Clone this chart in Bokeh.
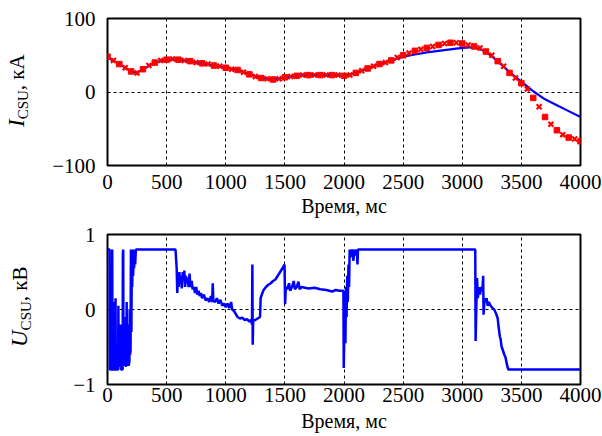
from bokeh.plotting import figure
from bokeh.models import Range1d, FixedTicker, Div
from bokeh.layouts import column, row
from bokeh.embed import file_html
from bokeh.resources import INLINE

# ---- data ----
x_ticks = [0, 500, 1000, 1500, 2000, 2500, 3000, 3500, 4000]
i_ticks = [-100, 0, 100]
u_ticks = [-1, 0, 1]

# computed current (blue line), ms / kA
i_calc_t = [0, 100, 200, 250, 300, 400, 500, 600, 700, 800, 900, 1000, 1100, 1200, 1300,
            1400, 1500, 1600, 1700, 1800, 1900, 2000, 2100, 2200, 2300, 2400, 2500, 2600,
            2700, 2800, 2900, 3000, 3100, 3200, 3300, 3400, 3500, 3600, 3700, 3800, 3900, 4000]
i_calc_v = [47, 38, 28, 26, 31, 40, 44, 44, 42, 39, 36, 33, 30, 24, 19,
            17, 20, 22, 23, 23, 23, 22, 26, 32, 38, 43, 48, 51,
            54, 56, 58, 60, 61, 55, 42, 27, 14, 1, -10, -18, -26, -34]

# measured current (red markers), ms / kA
i_meas_t = [0, 50, 100, 150, 200, 250, 300, 350, 400, 450, 500, 550, 600, 650, 700, 750,
            800, 850, 900, 950, 1000, 1050, 1100, 1150, 1200, 1250, 1300, 1350, 1400, 1450,
            1500, 1550, 1600, 1650, 1700, 1750, 1800, 1850, 1900, 1950, 2000, 2050, 2100,
            2150, 2200, 2250, 2300, 2350, 2400, 2450, 2500, 2550, 2600, 2650, 2700, 2750,
            2800, 2850, 2900, 2950, 3000, 3050, 3100, 3150, 3200, 3250, 3300, 3350, 3400,
            3450, 3500, 3550, 3600, 3650, 3700, 3750, 3800, 3850, 3900, 3950, 4000]
i_meas_v = [48, 43, 38, 33, 28, 26, 31, 36, 40, 43, 44, 45, 44, 43, 42, 40,
            39, 38, 36, 35, 33, 31, 30, 27, 24, 21, 19, 18, 17, 18,
            20, 21, 22, 23, 23, 23, 23, 23, 23, 23, 22, 23, 26,
            29, 32, 35, 38, 40, 43, 47, 50, 53, 56, 58, 60, 62,
            64, 66, 67, 67, 66, 64, 62, 60, 55, 50, 42, 35, 26,
            19, 12, 4, -8, -20, -34, -44, -52, -58, -62, -64, -67]

# coil voltage (blue line), ms / kV
u_t = [0, 18, 20, 38, 40, 42, 55, 57, 59, 66, 68, 70, 90, 92, 94, 110, 112, 114, 128, 130,
       133, 135, 145, 147, 150, 160, 162, 165, 172, 175, 178, 185, 188, 191, 195, 198, 202,
       206, 209, 213, 217, 221, 225, 230, 234, 240, 575, 580, 585, 590, 596, 602, 608, 614,
       620, 628, 636, 644, 650, 656, 664, 670, 678, 686, 694, 702, 712, 720, 730, 740, 750,
       760, 770, 780, 790, 800, 815, 830, 845, 860, 875, 885, 890, 895, 910, 925, 940, 955,
       970, 985, 1000, 1015, 1030, 1045, 1055, 1070, 1085, 1100, 1120, 1140, 1160, 1180,
       1200, 1215, 1222, 1225, 1228, 1232, 1250, 1270, 1290, 1295, 1305, 1320, 1340, 1360,
       1380, 1400, 1420, 1440, 1460, 1480, 1497, 1502, 1508, 1520, 1535, 1545, 1560, 1575,
       1585, 1600, 1615, 1625, 1640, 1700, 1750, 1800, 1850, 1900, 1930, 1960, 1995, 1998,
       2003, 2008, 2012, 2017, 2022, 2027, 2032, 2038, 2043, 2048, 2060, 2068, 2080, 2085,
       2100, 2108, 2114, 2118, 3110, 3113, 3120, 3125, 3132, 3140, 3150, 3160, 3170, 3177,
       3180, 3190, 3200, 3206, 3215, 3225, 3240, 3255, 3270, 3285, 3300, 3305, 3318, 3325,
       3332, 3345, 3355, 3366, 3380, 3390, 4000]
u_v = [0.8, 0.8, -0.8, -0.8, 0.8, -0.8, -0.8, 0.1, -0.8, -0.8, 0.15, -0.8, -0.8, 0.05, -0.75,
       -0.75, -0.2, -0.8, -0.8, 0.75,
       0.8, -0.7, -0.7, -0.1, -0.75, -0.75, 0.1, -0.65, -0.7, -0.2, -0.75, -0.7, 0.0, -0.6,
       -0.55, 0.8, -0.3,
       0.8, 0.3, 0.8, 0.45, 0.8, 0.55, 0.8, 0.6, 0.8, 0.8, 0.68, 0.55, 0.22, 0.45, 0.3, 0.5, 0.35,
       0.45, 0.28, 0.5, 0.4, 0.52, 0.3, 0.45, 0.35, 0.42, 0.3, 0.48, 0.3, 0.38, 0.27, 0.3, 0.22,
       0.3,
       0.2, 0.25, 0.18, 0.22, 0.15, 0.2, 0.12, 0.15, 0.1, 0.18, 0.1, 0.35, 0.12, 0.1, 0.15,
       0.08, 0.13,
       0.05, 0.08, 0.03, 0.08, 0.02, 0.1, 0.0, -0.02, -0.06, -0.1, -0.12, -0.11, -0.14, -0.13,
       -0.16, -0.14, -0.2, 0.6, -0.47, -0.15, -0.14, -0.12, -0.1, 0.15, 0.2, 0.26, 0.3, 0.33,
       0.35, 0.38, 0.4, 0.45, 0.5, 0.55, 0.6, 0.07, 0.3, 0.27, 0.35, 0.25, 0.3, 0.38,
       0.27, 0.3, 0.37, 0.27, 0.3, 0.28, 0.29, 0.27, 0.26, 0.24, 0.26, 0.25, 0.25, -0.78,
       -0.3, 0.15, -0.45, 0.3, -0.1, 0.45, 0.1, 0.6, 0.3, 0.8, 0.7, 0.8, 0.65, 0.8,
       0.72, 0.8, 0.6, 0.8, 0.8, -0.42, 0.1, 0.42, 0.15, 0.3, 0.2, 0.3, 0.25, 0.45,
       -0.07, 0.15, 0.1, 0.15, 0.05, 0.1, 0.05, 0.02, 0.0, -0.05, -0.12, -0.2, -0.36, -0.4,
       -0.49, -0.55, -0.6, -0.64, -0.75, -0.8, -0.8]

x_label = "Время, мс"
i_label = ["I", "CSU", ", кА"]
u_label = ["U", "CSU", ", кВ"]

# ---- style / layout ----
FONT = "Liberation Serif"
LW = 40          # width of the y-label strip
W = 602 - LW
FL = 107 - LW    # frame left inside main figure
FW = 473         # frame width
BLUE = "#0000ff"
RED = "#ff0000"


def make_fig(height, top, frame_h, yr, yticks, overrides, tick_standoff, label_standoff):
    p = figure(width=W, height=height, output_backend="svg", toolbar_location=None,
               x_range=Range1d(0, 4000), y_range=Range1d(*yr),
               min_border_left=FL, min_border_right=W - FL - FW,
               min_border_top=top, min_border_bottom=height - top - frame_h)
    p.outline_line_color = "black"
    p.outline_line_width = 2
    p.background_fill_color = "white"
    p.border_fill_color = "white"
    for ax in (p.xaxis[0], p.yaxis[0]):
        ax.axis_line_color = None
        ax.major_tick_line_color = None
        ax.minor_tick_line_color = None
        ax.major_tick_in = 0
        ax.major_tick_out = 0
        ax.minor_tick_in = 0
        ax.minor_tick_out = 0
        ax.major_label_text_font = FONT
        ax.major_label_text_font_size = "21px"
        ax.major_label_text_color = "black"
    p.xaxis[0].ticker = FixedTicker(ticks=x_ticks)
    p.yaxis[0].ticker = FixedTicker(ticks=yticks)
    p.yaxis[0].major_label_overrides = overrides
    p.yaxis[0].major_label_standoff = 12
    p.xaxis[0].major_label_standoff = tick_standoff
    p.xaxis[0].axis_label = x_label
    p.xaxis[0].axis_label_text_font = FONT
    p.xaxis[0].axis_label_text_font_style = "normal"
    p.xaxis[0].axis_label_text_font_size = "20px"
    p.xaxis[0].axis_label_text_color = "black"
    p.xaxis[0].axis_label_standoff = label_standoff
    p.xgrid[0].ticker = FixedTicker(ticks=x_ticks)
    p.ygrid[0].ticker = FixedTicker(ticks=yticks)
    for g in (p.xgrid[0], p.ygrid[0]):
        g.grid_line_color = "black"
        g.grid_line_dash = "3 3"
        g.grid_line_width = 1
    return p


def label_strip(height, parts, tx, ty):
    # vertical y-axis title: italic symbol, small subscript, unit; reads bottom to top
    html = (
        '<div style="transform: translate(%dpx, %dpx) rotate(-90deg); '
        'transform-origin: 0 0; white-space: nowrap; width: max-content; '
        "font-family: 'Liberation Serif', serif; font-size: 21px; line-height: 24px; "
        'color: black; margin: 0; padding: 0;">'
        '<i style="font-size: 23px;">%s</i>'
        '<span style="font-size: 15px; position: relative; top: 4px;">%s</span>'
        '%s</div>' % (tx, ty, parts[0], parts[1], parts[2])
    )
    return Div(text=html, width=LW, height=height, margin=0,
               styles={"overflow": "visible", "padding": "0", "margin": "0"})


H1, H2 = 222, 214

# top figure: current
p1 = make_fig(H1, 18, 147, (-100, 100), i_ticks, {-100: "\u2212100"}, 9, 3)
p1.line(i_calc_t, i_calc_v, line_color=BLUE, line_width=2.2)
sq_t = i_meas_t[0::2]
sq_v = i_meas_v[0::2]
x_t = i_meas_t[1::2]
x_v = i_meas_v[1::2]
p1.scatter(sq_t, sq_v, marker="square", size=5.5, fill_color=RED, line_color=RED, line_width=1)
p1.scatter(x_t, x_v, marker="x", size=7, line_color=RED, line_width=2.2)
l1 = label_strip(H1, i_label, 5, 127)

# bottom figure: voltage
p2 = make_fig(H2, 12, 150, (-1, 1), u_ticks, {-1: "\u22121"}, 3, 5)
p2.line(u_t, u_v, line_color=BLUE, line_width=2.5)
l2 = label_strip(H2, u_label, 8, 347 - H1)

layout = column(row(l1, p1, spacing=0), row(l2, p2, spacing=0), spacing=0)
open("out.html", "w").write(file_html(layout, INLINE))
